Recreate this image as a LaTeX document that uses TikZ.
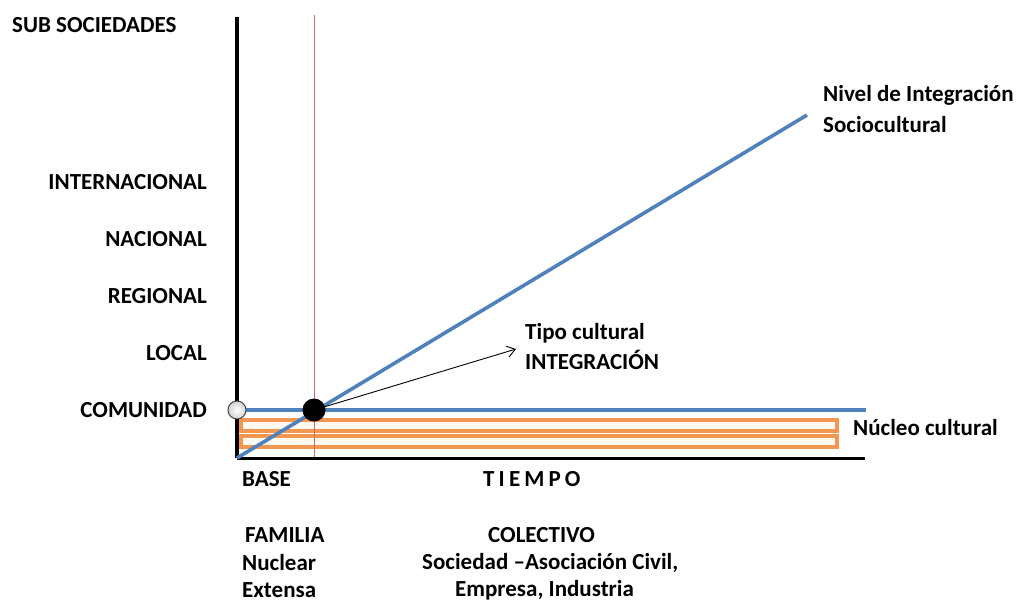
\documentclass[tikz,border=0pt]{standalone}
\usepackage{fontspec}
\setmainfont{Carlito}
\usetikzlibrary{arrows.meta}
\definecolor{axisblue}{RGB}{79,129,189}
\definecolor{coreorange}{RGB}{242,150,80}
\definecolor{guidered}{RGB}{200,110,105}
\tikzset{
  lbl/.style={font=\bfseries\fontsize{23}{26}\selectfont, inner sep=0pt, text=black},
  axisline/.style={draw=black, line width=3.6pt},
  blueline/.style={draw=axisblue, line width=3.6pt},
  corebox/.style={draw=coreorange, line width=3.2pt, fill=orange!5},
}
\begin{document}
\begin{tikzpicture}[x=1pt,y=-1pt]
  \useasboundingbox (0,0) rectangle (1017,602);

  % reference points of the chart
  \coordinate (origin) at (237,458);
  \coordinate (ytop) at (237,17);
  \coordinate (xend) at (865,458);
  \coordinate (redtop) at (314,15);
  \coordinate (redbot) at (314,458);
  \coordinate (comL) at (237,410);
  \coordinate (comR) at (866,410);
  \coordinate (diagEnd) at (807,115);

  % cultural core bands
  \draw[corebox] (241,420) rectangle (837,431);
  \draw[corebox] (241,436) rectangle (837,447);

  % community level and red time marker
  \draw[blueline] (comL) -- (comR);
  \draw[draw=guidered, line width=0.9pt] (redtop) -- (redbot);

  % axes
  \draw[axisline] (ytop) -- (origin);
  \draw[axisline, line width=3pt] (origin) -- (xend);

  % integration line
  \draw[blueline] (origin) -- (diagEnd);

  % points
  \node[circle, minimum size=18pt, inner sep=0pt, draw=gray!55!black, line width=1pt,
        inner color=white, outer color=gray!35] (gray) at (comL) {};
  \node[circle, minimum size=23pt, inner sep=0pt, fill=black] (dot) at (314,410) {};

  % y-axis labels
  \node[lbl, anchor=west] (sub) at (12,25) {SUB SOCIEDADES};
  \node[lbl, anchor=east] (int) at (207,182) {INTERNACIONAL};
  \node[lbl, anchor=east] (nac) at (207,239) {NACIONAL};
  \node[lbl, anchor=east] (reg) at (207,296) {REGIONAL};
  \node[lbl, anchor=east] (loc) at (207,353) {LOCAL};
  \node[lbl, anchor=east] (com) at (207,410) {COMUNIDAD};

  % right-hand labels
  \node[lbl, anchor=west] (niv1) at (823,95) {Nivel de Integración};
  \node[lbl, anchor=west] (niv2) at (823,125) {Sociocultural};
  \node[lbl, anchor=west] (nuc) at (853,428) {Núcleo cultural};

  % cultural type annotation
  \node[lbl, anchor=west] (tipo1) at (525,333) {Tipo cultural};
  \node[lbl, anchor=west] (tipo2) at (525,360) {INTEGRACIÓN};
  \coordinate (tip) at (516,349);
  \draw[line width=0.9pt, -{Straight Barb[length=8pt,width=11pt]}] (dot.center) -- (tip);

  % x-axis labels
  \node[lbl, anchor=west] (base) at (242,479) {BASE};
  \node[lbl, anchor=west] (tiempo) at (483,479) {\addfontfeatures{LetterSpace=18}TIEMPO};

  \node[lbl, anchor=west] (fam) at (245,535) {FAMILIA};
  \node[lbl, anchor=west] (nucl) at (242,563) {Nuclear};
  \node[lbl, anchor=west] (ext) at (242,590) {Extensa};

  \node[lbl, anchor=west] (col) at (488,535) {COLECTIVO};
  \node[lbl, anchor=west] (soc) at (422,563) {Sociedad –Asociación Civil,};
  \node[lbl, anchor=west] (emp) at (455,590) {Empresa, Industria};
\end{tikzpicture}
\end{document}
